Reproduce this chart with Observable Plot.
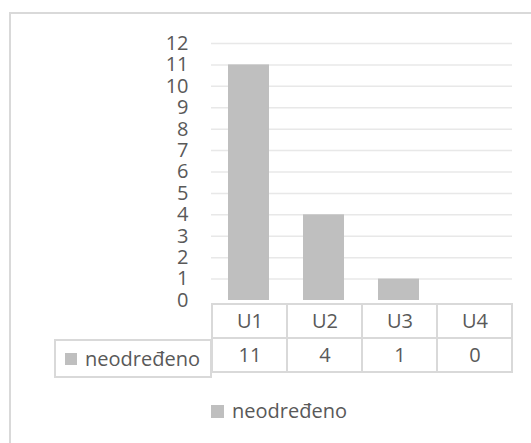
<!DOCTYPE html>
<html>
<head>
<meta charset="utf-8">
<script src="https://cdn.jsdelivr.net/npm/d3@7"></script>
<script src="https://cdn.jsdelivr.net/npm/@observablehq/plot@0.6"></script>
<style>
  html, body { margin: 0; padding: 0; background: #fff; }
  #wrap { position: relative; width: 531px; height: 443px; overflow: hidden; font-family: "Open Sans", sans-serif; color: #595959; }
  #frame { position: absolute; left: 9px; top: 12px; width: 526px; height: 500px; border: 2px solid #D9D9D9; box-sizing: border-box; }
  .abs { position: absolute; left: 0; top: 0; }
  #rowhead { position: absolute; left: 54px; top: 339px; width: 158px; height: 39px; box-sizing: border-box; border: 2px solid #D9D9D9; display: flex; align-items: center; padding-left: 9px; gap: 8px; font-size: 20px; background: #fff; }
  .sw { width: 12px; height: 12px; background: #BFBFBF; flex: none; }
  #legend { position: absolute; left: 211px; top: 399px; display: flex; align-items: center; gap: 8px; font-size: 20px; line-height: 24px; }
  #legend .sw { width: 13px; height: 13px; }
</style>
</head>
<body>
<div id="wrap">
  <div id="frame"></div>
</div>
<script>
const categories = ["U1", "U2", "U3", "U4"];
const seriesName = "neodređeno";
const values = [11, 4, 1, 0];
const yTicks = [0, 1, 2, 3, 4, 5, 6, 7, 8, 9, 10, 11, 12];

const data = categories.map((c, i) => ({cat: c, value: values[i]}));
const style = {fontFamily: "Open Sans", fontSize: "20px", color: "#595959", background: "transparent", overflow: "visible"};

const chart = Plot.plot({
  width: 531, height: 305,
  marginTop: 43, marginBottom: 5, marginLeft: 211, marginRight: 19,
  style,
  x: {domain: categories, paddingInner: 0.45, paddingOuter: 0.225, axis: null},
  y: {domain: [0, 12], axis: null},
  marks: [
    Plot.ruleY(yTicks.filter(t => t > 0), {stroke: "#E8E8E8", strokeWidth: 1.5}),
    Plot.barY(data, {x: "cat", y: "value", fill: "#BFBFBF"}),
    Plot.axisY(yTicks, {tickSize: 0, tickPadding: 23, label: null, fontSize: 20, fill: "#595959"})
  ]
});
chart.classList.add("abs");

const rows = ["head", "val"];
const cells = [];
for (const r of rows) for (const c of categories) cells.push({cat: c, row: r});

const table = Plot.plot({
  width: 531, height: 85,
  marginTop: 8, marginBottom: 8, marginLeft: 211, marginRight: 19,
  style,
  x: {domain: categories, padding: 0, axis: null},
  y: {domain: rows, padding: 0, axis: null},
  marks: [
    Plot.cell(cells, {x: "cat", y: "row", fill: "white", stroke: "#D9D9D9", strokeWidth: 2, inset: 0}),
    Plot.text(categories, {x: d => d, y: () => "head", text: d => d, fontSize: 20, fill: "#595959"}),
    Plot.text(data, {x: "cat", y: () => "val", text: d => String(d.value), fontSize: 20, fill: "#595959"})
  ]
});
table.classList.add("abs");
table.style.top = "295px";

const wrap = document.getElementById("wrap");
wrap.appendChild(chart);
wrap.appendChild(table);

const rowhead = document.createElement("div");
rowhead.id = "rowhead";
rowhead.innerHTML = '<span class="sw"></span><span></span>';
rowhead.lastChild.textContent = seriesName;
wrap.appendChild(rowhead);

const legend = document.createElement("div");
legend.id = "legend";
legend.innerHTML = '<span class="sw"></span><span></span>';
legend.lastChild.textContent = seriesName;
wrap.appendChild(legend);
</script>
</body>
</html>
